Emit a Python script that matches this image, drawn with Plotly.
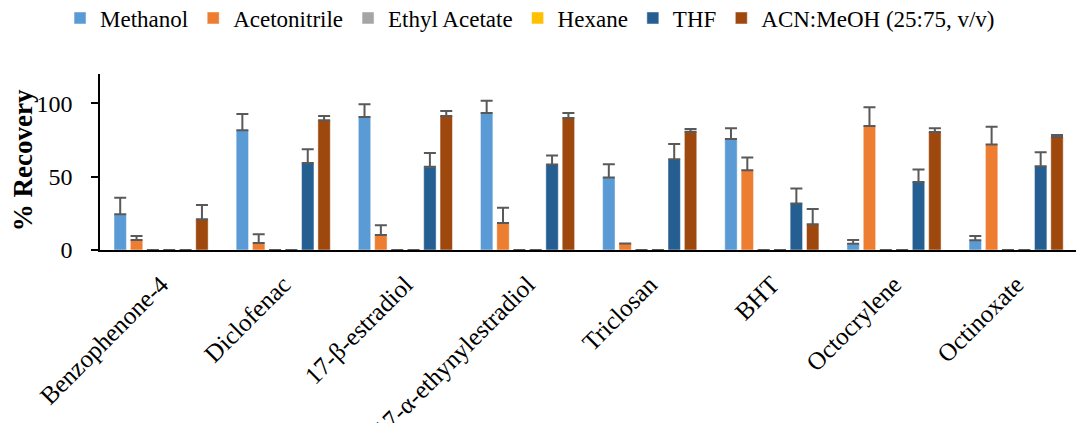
import plotly.graph_objects as go

categories = ["Benzophenone-4", "Diclofenac", "17-β-estradiol", "17-α-ethynylestradiol",
              "Triclosan", "BHT", "Octocrylene", "Octinoxate"]

methanol = [24.3, 81.6, 90.7, 93.4, 49.4, 75.7, 4.3, 6.6]
methanol_err = [11.3, 11.1, 8.6, 8.4, 9.1, 7.3, 2.5, 2.9]

acetonitrile = [6.8, 4.8, 10.2, 18.4, 4.5, 54.4, 84.6, 71.9]
acetonitrile_err = [2.7, 5.9, 6.6, 10.4, 0.0, 8.7, 12.7, 12.2]

ethyl_acetate = [0, 0, 0, 0, 0, 0, 0, 0]
ethyl_acetate_err = [0, 0, 0, 0, 0, 0, 0, 0]

hexane = [0, 0, 0, 0, 0, 0, 0, 0]
hexane_err = [0, 0, 0, 0, 0, 0, 0, 0]

thf = [0, 59.4, 56.7, 58.3, 61.9, 31.7, 46.3, 57.1]
thf_err = [0, 9.3, 9.5, 6.1, 10.4, 10.3, 8.6, 9.6]

acn_meoh = [20.9, 88.4, 91.4, 90.0, 80.7, 17.5, 80.5, 77.1]
acn_meoh_err = [9.7, 3.0, 3.4, 3.4, 1.8, 10.4, 2.5, 1.3]

y_title = "% Recovery"

series = [
    ("Methanol", methanol, methanol_err, "#5B9BD5"),
    ("Acetonitrile", acetonitrile, acetonitrile_err, "#ED7D31"),
    ("Ethyl Acetate", ethyl_acetate, ethyl_acetate_err, "#A5A5A5"),
    ("Hexane", hexane, hexane_err, "#FFC000"),
    ("THF", thf, thf_err, "#255E91"),
    ("ACN:MeOH (25:75, v/v)", acn_meoh, acn_meoh_err, "#9E480E"),
]

FONT = "Liberation Serif"

fig = go.Figure()
for name, vals, errs, color in series:
    fig.add_trace(go.Bar(
        name=name, x=categories, y=vals,
        marker=dict(color=color, line=dict(color="rgba(255,255,255,0.6)", width=0.8)),
        error_y=dict(type="data", array=errs, symmetric=False, arrayminus=[0]*len(errs),
                     color="#595959", thickness=2, width=6, visible=True),
        cliponaxis=False,
    ))

fig.update_layout(
    width=1076, height=423,
    barmode="group", bargap=0.197, bargroupgap=0.24,
    paper_bgcolor="white", plot_bgcolor="white",
    margin=dict(l=100, r=0, t=74, b=173, autoexpand=False),
    font=dict(family=FONT, size=23, color="black"),
    legend=dict(orientation="h", xref="container", yref="container",
                x=0.4926, xanchor="center", y=0.9574, yanchor="middle",
                font=dict(family=FONT, size=23, color="black"),
                itemwidth=30, itemclick=False, traceorder="normal"),
    showlegend=True,
    annotations=[dict(text="<b>" + y_title + "</b>", textangle=-90,
                      xref="paper", yref="paper", x=-77/976, y=0.51,
                      xanchor="center", yanchor="middle", showarrow=False,
                      font=dict(family=FONT, size=27, color="black"))],
)
fig.update_xaxes(
    type="category", range=[-0.5, 7.49],
    showline=True, linecolor="black", linewidth=2,
    ticks="", tickangle=-45, automargin=False, ticklabelstandoff=8,
    tickfont=dict(family=FONT, size=25, color="black"),
)
fig.update_yaxes(
    range=[0, 120], tickvals=[0, 50, 100],
    showline=True, linecolor="black", linewidth=1.5,
    ticks="outside", ticklen=7, tickcolor="black", tickwidth=1.5,
    showgrid=False, zeroline=False, automargin=False, ticklabelstandoff=14,
    tickfont=dict(family=FONT, size=24, color="black"),
)

fig.write_html("out.html", config={"displayModeBar": False},
               post_script="document.body.style.margin='0px';document.body.style.overflow='hidden';")
